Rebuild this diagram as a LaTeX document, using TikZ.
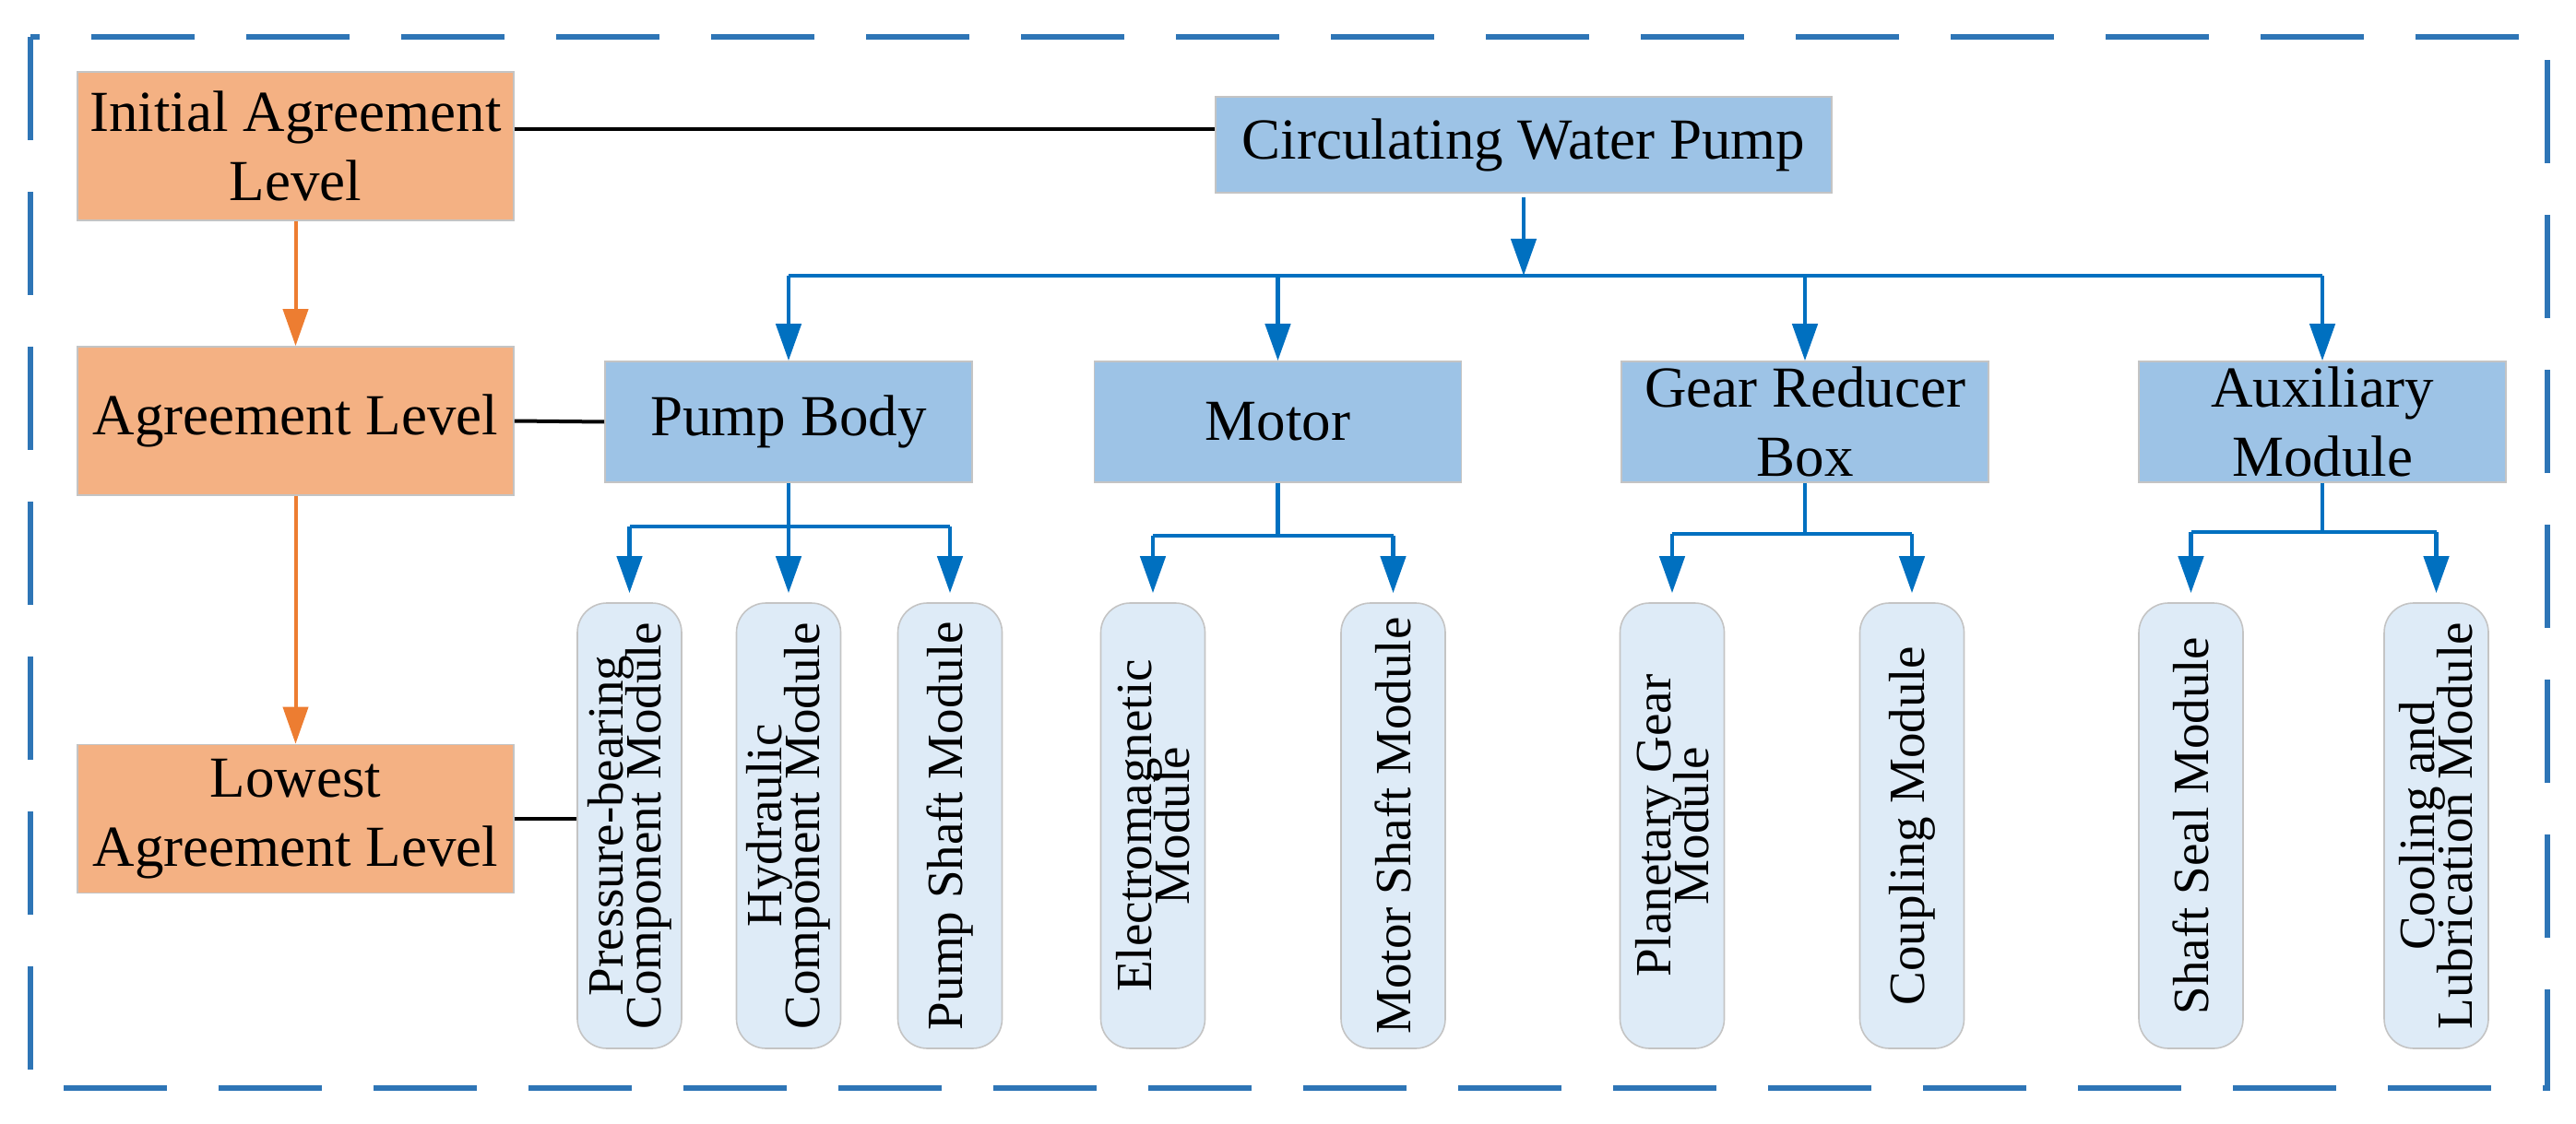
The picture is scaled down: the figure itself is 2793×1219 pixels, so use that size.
\documentclass[tikz,border=0pt]{standalone}
\usepackage{fontspec}
\setmainfont{Liberation Serif}
\usetikzlibrary{arrows.meta}
\definecolor{orfill}{HTML}{F4B183}
\definecolor{bluefill}{HTML}{9DC3E6}
\definecolor{modfill}{HTML}{DEEBF7}
\definecolor{conncol}{HTML}{0070C0}
\definecolor{orarrow}{HTML}{ED7D31}
\definecolor{framecol}{HTML}{2E75B6}
\definecolor{edgecol}{HTML}{C4C4C4}
\newcommand\mainfs{\fontsize{31.5}{37.5}\selectfont}
\newcommand\modfs{\fontsize{27.5}{20.5}\selectfont\lineskiplimit=-100pt\lineskip=0pt}
\begin{document}
\begin{tikzpicture}[x=0.5pt,y=-0.5pt,
  lvlbox/.style={draw=edgecol, line width=0.8pt, fill=orfill, minimum width=236.5pt, minimum height=80.5pt, inner sep=0pt, align=center, font=\mainfs},
  partbox/.style={draw=edgecol, line width=0.8pt, fill=bluefill, minimum width=199pt, minimum height=65.5pt, inner sep=0pt, align=center, font=\mainfs},
  modbox/.style={draw=edgecol, line width=0.8pt, fill=modfill, rounded corners=16pt, rotate=90, minimum width=241.5pt, minimum height=56.5pt, inner sep=0pt, align=center, font=\modfs},
  bline/.style={draw=conncol, line width=2.3pt},
  barr/.style={draw=conncol, fill=conncol, line width=2.3pt, -{Triangle[length=20pt,width=13.5pt]}},
  oarr/.style={draw=orarrow, line width=2pt, -{Triangle[length=20pt,width=13.5pt]}},
  kline/.style={draw=black, line width=2pt}]
\useasboundingbox (0,0) rectangle (2793,1219);
% frame
\draw[framecol, line width=3.2pt, dash pattern=on 56pt off 28pt] (33,40) rectangle (2762,1180);
% level boxes
\node[lvlbox] (init) at (320.5,158.5) {Initial Agreement\\Level};
\node[lvlbox] (agr) at (320.5,456.5) {Agreement Level};
\node[lvlbox] (low) at (320.5,888) {Lowest\\Agreement Level};
% top
\node[partbox, minimum width=334pt, minimum height=52pt] (cwp) at (1652,157) {Circulating Water Pump};
% parts
\node[partbox] (pb) at (855,457.5) {Pump Body};
\node[partbox] (mot) at (1385.5,457.5) {Motor};
\node[partbox] (gear) at (1957,457.5) {Gear Reducer\\Box};
\node[partbox] (aux) at (2518,457.5) {Auxiliary\\Module};
% modules
\node[modbox] (m1) at (682.5,895.5) {Pressure-bearing\\Component Module};
\node[modbox] (m2) at (855,895.5) {Hydraulic\\Component Module};
\node[modbox] (m3) at (1030,895.5) {Pump Shaft Module};
\node[modbox] (m4) at (1250,895.5) {Electromagnetic\\Module};
\node[modbox] (m5) at (1510.5,895.5) {Motor Shaft Module};
\node[modbox] (m6) at (1813,895.5) {Planetary Gear\\Module};
\node[modbox] (m7) at (2073,895.5) {Coupling Module};
\node[modbox] (m8) at (2375.5,895.5) {Shaft Seal Module};
\node[modbox] (m9) at (2641.5,895.5) {Cooling and\\Lubrication Module};
% helper coordinates
\coordinate (ltop) at (0,140);
\coordinate (bus0) at (0,299);
\coordinate (pbus) at (0,571);
\coordinate (mbus) at (0,581);
\coordinate (gbus) at (0,579);
\coordinate (abus) at (0,577);
% black lines
\draw[kline] (init.east |- ltop) -- (cwp.west |- ltop);
\draw[kline] (agr.east) -- (pb.west);
\draw[kline] (low.east) -- (low.east -| m1.north);
% orange arrows
\draw[oarr] (init.south) -- (agr.north);
\draw[oarr] (agr.south) -- (low.north);
% top bus
\draw[barr] ([yshift=-2pt]cwp.south) -- (cwp.south |- bus0);
\draw[bline] (pb.north |- bus0) -- (aux.north |- bus0);
\foreach \n in {pb,mot,gear,aux}{\draw[barr] (\n.north |- bus0) -- (\n.north);}
% pump body
\draw[bline] (pb.south) -- (pb.south |- pbus);
\draw[bline] (m1.east |- pbus) -- (m3.east |- pbus);
\foreach \n in {m1,m2,m3}{\draw[barr, shorten >=5pt] (\n.east |- pbus) -- (\n.east);}
% motor
\draw[bline] (mot.south) -- (mot.south |- mbus);
\draw[bline] (m4.east |- mbus) -- (m5.east |- mbus);
\foreach \n in {m4,m5}{\draw[barr, shorten >=5pt] (\n.east |- mbus) -- (\n.east);}
% gear
\draw[bline] (gear.south) -- (gear.south |- gbus);
\draw[bline] (m6.east |- gbus) -- (m7.east |- gbus);
\foreach \n in {m6,m7}{\draw[barr, shorten >=5pt] (\n.east |- gbus) -- (\n.east);}
% aux
\draw[bline] (aux.south) -- (aux.south |- abus);
\draw[bline] (m8.east |- abus) -- (m9.east |- abus);
\foreach \n in {m8,m9}{\draw[barr, shorten >=5pt] (\n.east |- abus) -- (\n.east);}
\end{tikzpicture}
\end{document}
